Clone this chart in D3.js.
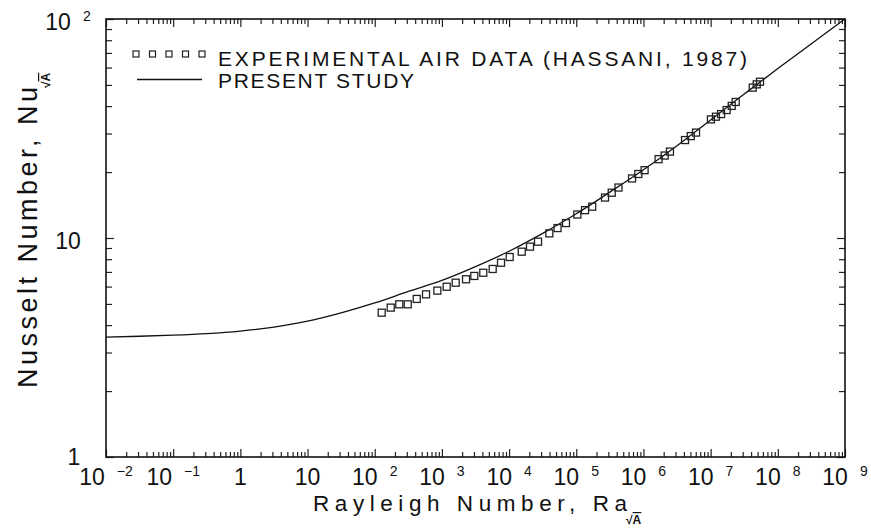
<!DOCTYPE html>
<html>
<head>
<meta charset="utf-8">
<script src="https://cdn.jsdelivr.net/npm/d3@7"></script>
<style>
  body { margin: 0; background: #fff; }
  text { font-family: "Liberation Sans", Arial, sans-serif; fill: #111; }
</style>
</head>
<body>
<svg width="871" height="531"></svg>
<script>
// axis ranges
const xDomain = [1e-2, 1e9];
const yDomain = [1, 100];

// present study curve, every half decade
const curveRa = [0.01, 0.0316, 0.1, 0.316, 1, 3.16, 10, 31.6, 100, 316, 1e3, 3160,
    1e4, 31600, 1e5, 316000, 1e6, 3.16e6, 1e7, 3.16e7, 1e8, 3.16e8, 1e9];
const curveNu = [3.53, 3.56, 3.60, 3.66, 3.76, 3.92, 4.17, 4.55, 5.05, 5.7, 6.4, 7.4,
    8.7, 10.5, 12.9, 16.2, 20.5, 26.4, 34.6, 45.4, 59.4, 77.1, 100];

// experimental air data (Hassani, 1987)
const expRa = [127, 173, 232, 310, 422, 580, 855, 1178, 1604, 2286, 3036, 4130, 5700, 7586,
    10210, 15420, 20480, 26970, 39700, 52600, 70300, 103700, 135000, 172600, 268000,
    337000, 425000, 676000, 839000, 1.04e6, 1.68e6, 2.07e6, 2.48e6, 4.16e6, 5.06e6,
    6.06e6, 1.01e7, 1.20e7, 1.43e7, 1.73e7, 2.06e7, 2.36e7, 4.23e7, 4.85e7, 5.43e7];
const expNu = [4.56, 4.81, 4.98, 4.98, 5.27, 5.53, 5.75, 5.99, 6.25, 6.48, 6.71, 6.94, 7.22, 7.71,
    8.19, 8.66, 9.13, 9.62, 10.5, 11.1, 11.7, 12.8, 13.4, 13.9, 15.3,
    16.1, 17.0, 18.7, 19.6, 20.4, 22.9, 23.8, 24.8, 28.0, 29.2,
    30.3, 34.8, 35.8, 36.8, 38.4, 40.1, 41.8, 48.6, 50.3, 51.7];

// decade exponents that get a label
const xTickExp = [-2, -1, 0, 1, 2, 3, 4, 5, 6, 7, 8, 9];
const yTickExp = [0, 1, 2];

// legend entries
const legendLabels = ["EXPERIMENTAL  AIR  DATA  (HASSANI,  1987)", "PRESENT  STUDY"];

let svg = d3.select("svg");
let plot = { left: 106, right: 845, top: 19, bottom: 457 };

let x = d3.scaleLog().domain(xDomain).range([plot.left, plot.right]);
let y = d3.scaleLog().domain(yDomain).range([plot.bottom, plot.top]);

// 2..9 inside every decade
function minorTicks(scale) {
    let d = scale.domain(), out = [];
    for (let e = Math.round(Math.log10(d[0])); e < Math.round(Math.log10(d[1])); e++) {
        for (let k = 2; k <= 9; k++) out.push(k * Math.pow(10, e));
    }
    return out;
}
function majorTicks(scale) {
    let d = scale.domain(), out = [];
    for (let e = Math.round(Math.log10(d[0])); e <= Math.round(Math.log10(d[1])); e++) out.push(Math.pow(10, e));
    return out;
}

// ticks on all four sides, pointing inwards
function drawTicks(axis, vals, size, transform) {
    svg.append("g")
        .attr("transform", transform)
        .style("color", "#222")
        .call(axis.tickValues(vals).tickSize(size).tickSizeOuter(0).tickFormat(""))
        .call(g => g.select(".domain").remove())
        .selectAll("line").attr("stroke-width", 1.2);
}
drawTicks(d3.axisBottom(x), minorTicks(x), -5, `translate(0,${plot.bottom})`);
drawTicks(d3.axisBottom(x), majorTicks(x), -8, `translate(0,${plot.bottom})`);
drawTicks(d3.axisTop(x), minorTicks(x), -5, `translate(0,${plot.top})`);
drawTicks(d3.axisTop(x), majorTicks(x), -8, `translate(0,${plot.top})`);
drawTicks(d3.axisLeft(y), minorTicks(y), -6, `translate(${plot.left},0)`);
drawTicks(d3.axisLeft(y), majorTicks(y), -8, `translate(${plot.left},0)`);
drawTicks(d3.axisRight(y), minorTicks(y), -6, `translate(${plot.right},0)`);
drawTicks(d3.axisRight(y), majorTicks(y), -8, `translate(${plot.right},0)`);

// frame
svg.append("rect")
    .attr("x", plot.left).attr("y", plot.top)
    .attr("width", plot.right - plot.left).attr("height", plot.bottom - plot.top)
    .attr("fill", "none").attr("stroke", "#111").attr("stroke-width", 1.6);

// "10" with a raised exponent
function powLabel(sel, e) {
    if (e === 0) { sel.text("1"); return; }
    sel.append("tspan").text("10");
    if (e !== 1) {
        sel.append("tspan")
            .attr("dx", 12).attr("dy", -9)
            .attr("font-size", 14)
            .text(e < 0 ? "\u2212" + (-e) : e);
    }
}

svg.append("g").selectAll("text")
    .data(xTickExp).enter().append("text")
    .attr("x", d => x(Math.pow(10, d)))
    .attr("y", 485)
    .attr("text-anchor", "middle")
    .attr("font-size", 23)
    .each(function (d) { powLabel(d3.select(this), d); });

svg.append("g").selectAll("text")
    .data(yTickExp).enter().append("text")
    .attr("x", d => d === 0 ? 74 : 68)
    .attr("y", d => y(Math.pow(10, d)) + (d === 0 ? 8 : 11))
    .attr("text-anchor", "middle")
    .attr("font-size", 23)
    .each(function (d) { powLabel(d3.select(this), d); });

// x axis title with sqrt(A) subscript
svg.append("text")
    .attr("x", 313).attr("y", 511)
    .attr("font-size", 22.5)
    .attr("textLength", 314).attr("lengthAdjust", "spacing")
    .text("Rayleigh  Number,  Ra");
let xSub = svg.append("text")
    .attr("x", 626).attr("y", 524)
    .attr("font-size", 12).attr("font-weight", "bold");
xSub.append("tspan").text("\u221A");
xSub.append("tspan").style("text-decoration", "overline").text("A");

// y axis title, rotated
let yTitle = svg.append("g").attr("transform", "translate(37,388) rotate(-90)");
yTitle.append("text")
    .attr("x", 0).attr("y", 0)
    .attr("font-size", 27)
    .attr("textLength", 301).attr("lengthAdjust", "spacing")
    .text("Nusselt  Number,  Nu");
let ySub = yTitle.append("text")
    .attr("x", 300).attr("y", 13)
    .attr("font-size", 12).attr("font-weight", "bold");
ySub.append("tspan").text("\u221A");
ySub.append("tspan").style("text-decoration", "overline").text("A");

// present study curve
let curve = curveRa.map((r, i) => [r, curveNu[i]]);
let line = d3.line()
    .x(d => x(d[0]))
    .y(d => y(d[1]))
    .curve(d3.curveMonotoneX);
svg.append("path")
    .datum(curve)
    .attr("d", line)
    .attr("fill", "none")
    .attr("stroke", "#111")
    .attr("stroke-width", 1.3);

// experimental points as open squares
let sq = 7;
svg.append("g").selectAll("rect")
    .data(expRa.map((r, i) => [r, expNu[i]]))
    .enter().append("rect")
    .attr("x", d => x(d[0]) - sq / 2)
    .attr("y", d => y(d[1]) - sq / 2)
    .attr("width", sq).attr("height", sq)
    .attr("fill", "none")
    .attr("stroke", "#222")
    .attr("stroke-width", 1.3);

// legend
let legend = svg.append("g");
legend.selectAll("rect")
    .data([0, 1, 2, 3, 4]).enter().append("rect")
    .attr("x", d => 133 + d * 16.5)
    .attr("y", 51)
    .attr("width", 6).attr("height", 6)
    .attr("fill", "none").attr("stroke", "#222").attr("stroke-width", 1.2);
legend.append("line")
    .attr("x1", 137).attr("x2", 202)
    .attr("y1", 79.5).attr("y2", 79.5)
    .attr("stroke", "#111").attr("stroke-width", 1.3);
legend.append("text")
    .attr("x", 218).attr("y", 66)
    .attr("font-size", 21)
    .attr("textLength", 529).attr("lengthAdjust", "spacing")
    .text(legendLabels[0]);
legend.append("text")
    .attr("x", 218).attr("y", 88)
    .attr("font-size", 21)
    .attr("textLength", 196).attr("lengthAdjust", "spacing")
    .text(legendLabels[1]);
</script>
</body>
</html>
